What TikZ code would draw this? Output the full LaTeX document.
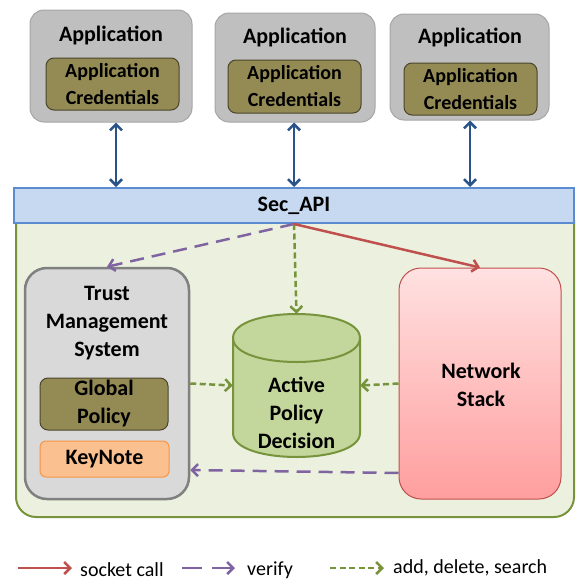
\documentclass[tikz,border=0pt]{standalone}
\usepackage{fontspec}
\setmainfont{Carlito}
\usetikzlibrary{arrows.meta,calc}
\definecolor{appfill}{HTML}{BFBFBF}
\definecolor{appborder}{HTML}{A6A6A6}
\definecolor{credfill}{HTML}{948A54}
\definecolor{credborder}{HTML}{4A452A}
\definecolor{apifill}{HTML}{C6D9F1}
\definecolor{apiborder}{HTML}{5B8BD0}
\definecolor{arrowblue}{HTML}{2A5389}
\definecolor{contfill}{HTML}{EBF1DE}
\definecolor{contborder}{HTML}{77933C}
\definecolor{trustfill}{HTML}{D9D9D9}
\definecolor{trustborder}{HTML}{808080}
\definecolor{keyfill}{HTML}{FAC090}
\definecolor{keyborder}{HTML}{F79646}
\definecolor{cylfill}{HTML}{C3D69B}
\definecolor{nettop}{HTML}{FFE1E1}
\definecolor{netbot}{HTML}{FF9E9E}
\definecolor{netborder}{HTML}{C0504D}
\definecolor{verifyc}{HTML}{8064A2}
\definecolor{sockc}{HTML}{C0504D}
\definecolor{addc}{HTML}{77933C}
\tikzset{
  bigtxt/.style={font=\fontsize{22}{28}\selectfont\bfseries, align=center, inner sep=0pt},
  appbox/.style={draw=appborder, fill=appfill, rounded corners=14pt, line width=1pt},
  credbox/.style={draw=credborder, fill=credfill, rounded corners=8pt, line width=1pt,
    font=\fontsize{20}{27}\selectfont\bfseries, align=center, inner sep=0pt},
  barrow/.style={draw=arrowblue, line width=2.5pt, {Straight Barb[length=6pt,width=12pt]}-{Straight Barb[length=6pt,width=12pt]}},
  tipb/.style={-{Straight Barb[length=6pt,width=12pt]}},
  sockarrow/.style={draw=sockc, line width=2.5pt, tipb},
  verarrow/.style={draw=verifyc, line width=2.5pt, dash pattern=on 14pt off 8pt, tipb},
  addarrow/.style={draw=addc, line width=2.5pt, dash pattern=on 6pt off 3.5pt, tipb},
  legtxt/.style={font=\fontsize{20}{24}\selectfont, anchor=west, inner sep=0pt}
}
\begin{document}
\begin{tikzpicture}[x=1pt,y=-1pt]
\useasboundingbox (0,0) rectangle (576,581);
% applications
\node[appbox, minimum width=162pt, minimum height=112pt] (app1) at (111,66) {};
\node[appbox, minimum width=160pt, minimum height=109pt] (app2) at (295,67.5) {};
\node[appbox, minimum width=159pt, minimum height=106pt] (app3) at (469.5,67) {};
\node[bigtxt] (t1) at (111,35) {Application};
\node[bigtxt] (t2) at (295,37) {Application};
\node[bigtxt] (t3) at (470,37) {Application};
\node[credbox, minimum width=133pt, minimum height=52pt] (c1) at (112.5,84) {Application\\Credentials};
\node[credbox, minimum width=133pt, minimum height=53pt] (c2) at (294.5,86.5) {Application\\Credentials};
\node[credbox, minimum width=133pt, minimum height=52pt] (c3) at (470.5,89) {Application\\Credentials};
% container
\draw[fill=contfill, draw=contborder, line width=2pt, rounded corners=20pt] (16,200) rectangle (574,517);
% Sec_API
\node[draw=apiborder, fill=apifill, line width=2pt, minimum width=560pt, minimum height=35pt, bigtxt] (api) at (294,205.5) {Sec\_API};
% blue arrows
\draw[barrow] ([xshift=5pt]app1.south) -- ([xshift=5pt]app1.south |- api.north);
\draw[barrow] ([xshift=-1pt]app2.south) -- ([xshift=-1pt]app2.south |- api.north);
\draw[barrow] ([xshift=0.5pt]app3.south) -- ([xshift=0.5pt]app3.south |- api.north);
% trust management system
\node[draw=trustborder, fill=trustfill, line width=2.5pt, rounded corners=22pt, minimum width=164pt, minimum height=231pt] (trust) at (107,383.5) {};
\node[bigtxt] (trusttxt) at (107,323) {Trust\\Management\\System};
\node[draw=credborder, fill=credfill, line width=1pt, rounded corners=8pt, minimum width=128pt, minimum height=52pt, bigtxt] (glob) at (104,404) {Global\\Policy};
\node[draw=keyborder, fill=keyfill, line width=1pt, rounded corners=6pt, minimum width=129pt, minimum height=36pt, bigtxt] (key) at (104.5,459) {KeyNote};
% cylinder
\draw[fill=cylfill, draw=contborder, line width=2pt]
  (233,338) -- (233,433) .. controls (233,465) and (360,465) .. (360,433)
  -- (360,338) .. controls (360,306) and (233,306) .. (233,338) -- cycle;
\draw[draw=contborder, line width=2pt] (233,338) .. controls (233,370) and (360,370) .. (360,338);
\node[minimum width=127pt, minimum height=143pt, inner sep=0pt] (cyl) at (296.5,385.5) {};
\node[bigtxt] (cyltxt) at (296.5,412.5) {Active\\Policy\\Decision};
% network stack
\node[draw=netborder, top color=nettop, bottom color=netbot, line width=1pt, rounded corners=22pt, minimum width=162pt, minimum height=231pt] (net) at (480,383.5) {};
\node[bigtxt] (nettxt) at (481,385) {Network\\Stack};
% connectors
\draw[verarrow] (api.south) -- (trust.north);
\draw[addarrow] (api.south) -- (cyl.north);
\draw[sockarrow] (api.south) -- (net.north);
\draw[addarrow] (trust.east) -- (cyl.west);
\draw[addarrow] (net.west) -- (cyl.east);
\draw[verarrow] ([yshift=-89.5pt]net.west) -- ([yshift=-86.5pt]trust.east);
% legend
\coordinate (l1a) at (18,568); \coordinate (l1b) at (72,568);
\coordinate (l2a) at (182,568); \coordinate (l2b) at (235,568);
\coordinate (l3a) at (330,568); \coordinate (l3b) at (384,568);
\draw[sockarrow] (l1a) -- (l1b);
\draw[verarrow, dash pattern=on 20pt off 10pt] (l2a) -- (l2b);
\draw[addarrow] (l3a) -- (l3b);
\node[legtxt] (lt1) at (80,570) {socket call};
\node[legtxt] (lt2) at (247,570) {verify};
\node[legtxt] (lt3) at (393,568) {add, delete, search};
\end{tikzpicture}
\end{document}
